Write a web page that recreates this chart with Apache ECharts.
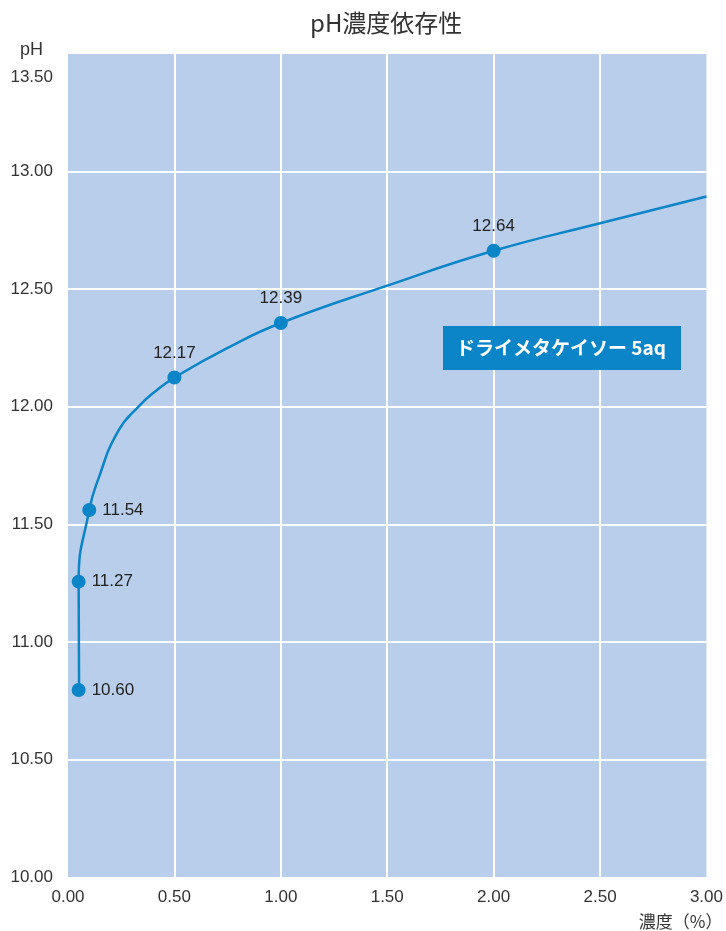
<!DOCTYPE html>
<html><head><meta charset="utf-8">
<script src="https://cdn.jsdelivr.net/npm/echarts@6/dist/echarts.min.js"></script>
<style>html,body{margin:0;padding:0;background:#fff}#c{width:726px;height:931px}</style>
</head><body><div id="c"></div>
<script>
// Measured points (concentration %, pH position) and their printed labels
const pointX = [0.05, 0.05, 0.10, 0.50, 1.00, 2.00];
const pointY = [10.795, 11.256, 11.561, 12.124, 12.356, 12.663];
const pointLabels = ['10.60', '11.27', '11.54', '12.17', '12.39', '12.64'];
const labelPos = ['right', 'right', 'right', 'top', 'top', 'top'];
// Curve points
const curveX = [0.052, 0.05, 0.10, 0.141, 0.235, 0.336, 0.414, 0.50, 0.75, 1.00, 1.50, 2.00, 2.50, 3.00];
const curveY = [10.795, 11.256, 11.561, 11.689, 11.895, 12.005, 12.068, 12.124, 12.25, 12.356, 12.515, 12.663, 12.78, 12.894];
const title = 'pH濃度依存性';
const seriesName = 'ドライメタケイソー 5aq';
const xName = '濃度（%）';
const yName = 'pH';

const blue = '#0b84c8';
const chart = echarts.init(document.getElementById('c'));
const fontFam = '"Liberation Sans", Arial, sans-serif';
const cjk = '"Noto Sans CJK JP", sans-serif';
chart.setOption({
  animation: false,
  title: [{
    text: title, left: 305, top: 6,
    textStyle: {fontSize: 24, fontWeight: 'normal', color: '#333', fontFamily: cjk}
  }, {
    text: seriesName, left: 443, top: 326,
    backgroundColor: blue, padding: [11, 13, 11, 13],
    textStyle: {fontSize: 19, fontWeight: 'bold', color: '#fff', fontFamily: cjk, width: 212, lineHeight: 22}
  }],
  grid: {left: 68, right: 15, top: 54, bottom: 54, show: true, backgroundColor: '#b9ceeb', borderWidth: 0},
  xAxis: {
    type: 'value', min: 0, max: 3, interval: 0.5,
    name: xName, nameLocation: 'end', nameGap: 16,
    nameTextStyle: {align: 'right', verticalAlign: 'top', padding: [36, 0, 0, 0], fontSize: 17, color: '#333', fontFamily: cjk},
    axisLine: {show: false}, axisTick: {show: false},
    axisLabel: {formatter: v => v.toFixed(2), fontSize: 17, color: '#333', margin: 12, fontFamily: fontFam},
    splitLine: {show: true, showMinLine: false, showMaxLine: false, lineStyle: {color: '#fff', width: 2}}
  },
  yAxis: {
    type: 'value', min: 10, max: 13.5, interval: 0.5,
    name: yName, nameLocation: 'end', nameGap: 4,
    nameTextStyle: {align: 'right', verticalAlign: 'middle', padding: [0, 25, 0, 0], fontSize: 18, color: '#333', fontFamily: fontFam},
    axisLine: {show: false}, axisTick: {show: false},
    axisLabel: {
      formatter: v => v === 13.5 ? '{t|' + v.toFixed(2) + '}' : v.toFixed(2),
      rich: {t: {padding: [46, 0, 0, 0], fontSize: 17, color: '#333', fontFamily: fontFam}},
      fontSize: 17, color: '#333', margin: 15, fontFamily: fontFam
    },
    splitLine: {show: true, showMinLine: false, showMaxLine: false, lineStyle: {color: '#fff', width: 2}}
  },
  series: [{
    type: 'line', name: 'curve', smooth: 0.5, symbol: 'none',
    data: curveX.map((x, i) => [x, curveY[i]]),
    lineStyle: {color: blue, width: 2.5}
  }, {
    type: 'scatter', name: seriesName, symbolSize: 14,
    itemStyle: {color: blue, opacity: 1},
    data: pointX.map((x, i) => ({
      value: [x, pointY[i]],
      label: {show: true, formatter: pointLabels[i], position: labelPos[i], distance: labelPos[i] === 'top' ? 9 : 6,
        fontSize: 17, color: '#222', fontFamily: fontFam}
    }))
  }]
});
</script></body></html>
